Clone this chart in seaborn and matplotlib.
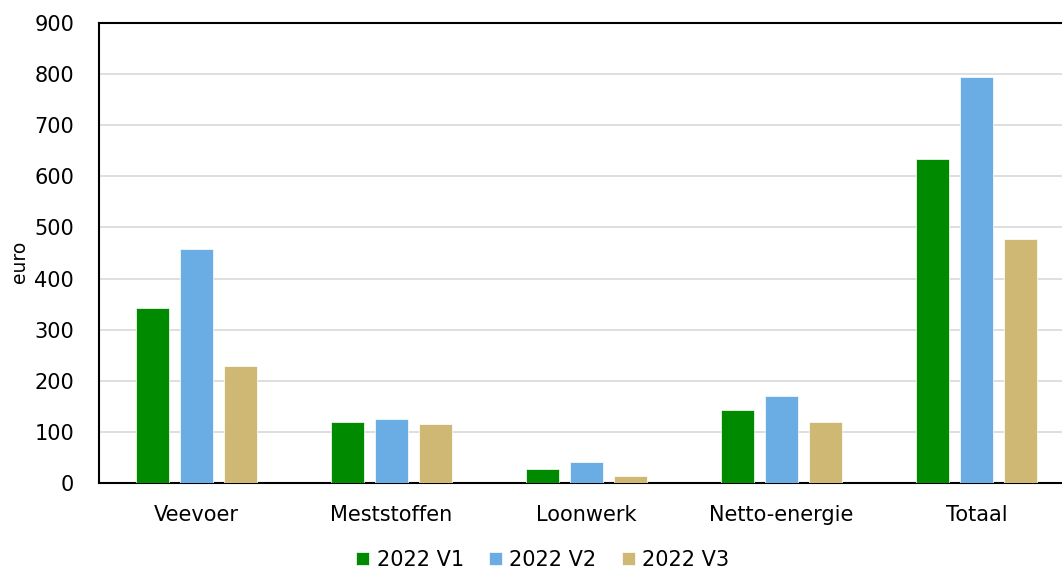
import pandas as pd
import seaborn as sns
import matplotlib.pyplot as plt

# data
categories = ["Veevoer", "Meststoffen", "Loonwerk", "Netto-energie", "Totaal"]
series = ["2022 V1", "2022 V2", "2022 V3"]
v1 = [343, 119, 27, 143, 634]
v2 = [458, 125, 41, 170, 795]
v3 = [229, 115, 14, 119, 477]

df = pd.DataFrame({
    "categorie": categories * 3,
    "reeks": [series[0]] * 5 + [series[1]] * 5 + [series[2]] * 5,
    "euro": v1 + v2 + v3,
})

sns.set_style("white")
plt.rcParams["font.family"] = ["DejaVu Sans"]
plt.rcParams.update({"text.color": "black", "axes.labelcolor": "black",
                     "xtick.color": "black", "ytick.color": "black"})

fig = plt.figure(figsize=(10.62, 5.68), dpi=100)
ax = fig.add_axes([99 / 1062, 1 - 483 / 568, 975 / 1062, 460 / 568])

palette = ["#008a00", "#6aade4", "#cfb873"]
sns.barplot(data=df, x="categorie", y="euro", hue="reeks", palette=palette,
            width=0.677, gap=0.23, saturation=1, ax=ax, zorder=3,
            edgecolor="white", linewidth=0.5)

ax.set_ylim(0, 900)
ax.set_yticks(range(0, 901, 100))
ax.set_xlim(-0.5, 4.5)
ax.yaxis.grid(True, color="#d9d9d9", linewidth=1.2, zorder=0)
ax.set_axisbelow(True)
for s in ["left", "bottom", "top"]:
    ax.spines[s].set_color("black")
    ax.spines[s].set_linewidth(1.5)
ax.spines["right"].set_visible(False)
ax.tick_params(axis="both", labelsize=15, length=0)
ax.tick_params(axis="x", pad=16)
ax.tick_params(axis="y", pad=18)
ax.set_xlabel("")
ax.set_ylabel("euro", fontsize=13.5)
ax.yaxis.set_label_coords(-0.072, 0.48)

leg = ax.legend(loc="upper center", bbox_to_anchor=(0.455, -0.118), ncol=3,
                frameon=False, fontsize=15, handlelength=0.65, handleheight=0.65,
                columnspacing=1.2, handletextpad=0.35, borderpad=0.1)

fig.savefig("out.png", dpi=100)
